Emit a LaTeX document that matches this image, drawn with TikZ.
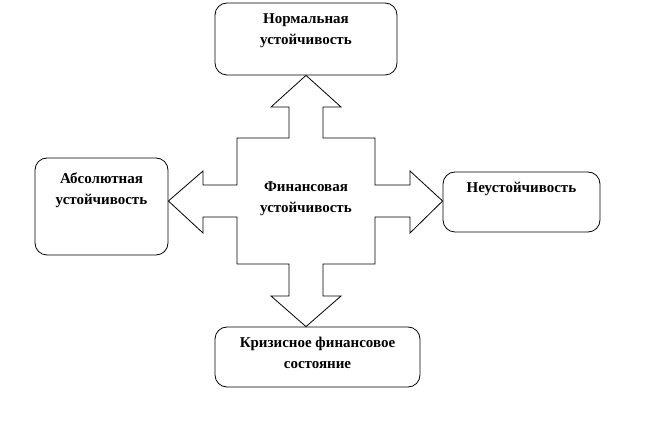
\documentclass[tikz,border=0pt]{standalone}
\usepackage{fontspec}
\setmainfont{Liberation Serif}
\usetikzlibrary{positioning}

\tikzset{
  box/.style={draw, rounded corners=12pt, line width=0.8pt},
  txt/.style={font=\bfseries\fontsize{15}{21}\selectfont, align=center, inner sep=0pt},
}

\begin{document}
\begin{tikzpicture}[x=1pt, y=-1pt, line width=0.8pt]
        \useasboundingbox (0,0) rectangle (648,435);
        % boxes
        \node[box, minimum width=182pt, minimum height=72pt] (norm) at (306,39) {};
        \node[box, minimum width=133pt, minimum height=97pt] (abs) at (101.5,206.5) {};
        \node[box, minimum width=157pt, minimum height=60pt] (neust) at (521.5,202) {};
        \node[box, minimum width=205pt, minimum height=60pt] (kriz) at (317.5,357) {};
        \node[txt, below=11pt of norm.north] (normtxt) {Нормальная\\устойчивость};
        \node[txt, below=15pt of abs.north] (abstxt) {Абсолютная\\устойчивость};
        \node[txt, below=10pt of neust.north] (neusttxt) {Неустойчивость};
        \node[txt, below=10pt of kriz.north] (kriztxt) {Кризисное финансовое\\состояние};
        % cross
        \coordinate (c) at (306,201);
        \draw (c |- norm.south) -- (341,107) -- (323,107) -- (323,138) -- (375,138)
          -- (375,185) -- (410,185) -- (410,171) -- (neust.west |- c)
          -- (410,233) -- (410,217) -- (375,217) -- (375,264) -- (323,264)
          -- (323,296) -- (341,296) -- (c |- kriz.north) -- (271,296) -- (289,296)
          -- (289,264) -- (237,264) -- (237,217) -- (203,217) -- (203,233)
          -- (abs.east |- c) -- (203,171) -- (203,185) -- (237,185) -- (237,138)
          -- (289,138) -- (289,107) -- (271,107) -- cycle;
        \node[txt, anchor=north] (fin) at (306,181) {Финансовая\\устойчивость};
\end{tikzpicture}
\end{document}
